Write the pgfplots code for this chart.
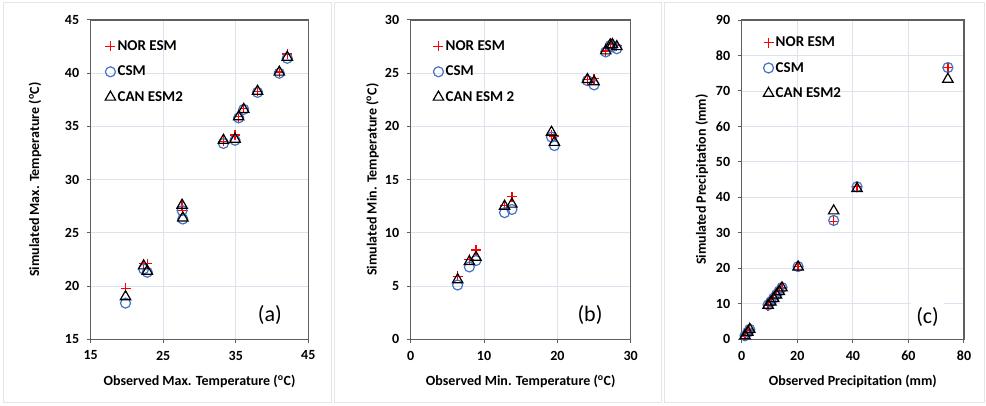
\documentclass[border=0pt]{standalone}
\usepackage{pgfplots}
\pgfplotsset{compat=1.18}
\usepackage{pgfplotstable}
\usepackage{fontspec}
\setmainfont{Carlito}
\definecolor{gridc}{RGB}{220,226,238}
\definecolor{axc}{RGB}{95,95,95}
\definecolor{csmblue}{RGB}{68,114,196}
\definecolor{panelc}{RGB}{226,229,234}

\pgfplotstableread{
x nor csm can
19.8 19.8 18.4 19.0
22.3 22.1 21.6 21.9
22.8 22.1 21.3 21.4
27.6 27.5 27.1 27.6
27.7 27.1 26.3 26.4
33.3 33.6 33.4 33.7
34.9 34.2 33.7 33.8
35.4 35.9 35.8 35.9
36.1 36.7 36.6 36.6
38.0 38.3 38.2 38.3
41.0 40.1 40.0 40.1
42.1 41.8 41.4 41.5
}\dataA

\pgfplotstableread{
x nor csm can
6.4 5.9 5.1 5.6
8.0 7.5 6.8 7.3
8.9 8.4 7.4 7.7
12.8 12.6 11.9 12.5
13.8 13.4 12.2 12.7
19.2 19.2 19.0 19.45
19.6 19.1 18.2 18.5
24.1 24.4 24.3 24.4
25.0 24.5 23.9 24.2
26.6 27.1 27.0 27.1
27.2 27.8 27.6 27.65
27.5 27.7 27.5 27.7
28.1 27.6 27.3 27.5
}\dataB

\pgfplotstableread{
x nor csm can
1.2 0.8 1.0 1.0
2.2 1.8 2.0 2.0
2.9 2.6 2.8 2.8
9.5 9.5 9.7 9.6
10.5 10.5 10.6 10.5
11.5 11.5 11.6 11.5
12.5 12.5 12.6 12.5
13.5 13.5 13.6 13.5
14.5 14.5 14.6 14.5
20.3 20.5 20.5 20.4
33.1 33.3 33.5 36.2
41.5 43.0 43.0 42.5
74.2 76.6 76.6 73.3
}\dataC

\pgfplotsset{
  myax/.style={
    scale only axis, anchor=south west, height=319.3pt,
    grid=major, major grid style={gridc, line width=0.9pt},
    axis line style={axc, line width=1.3pt},
    tick style={axc, line width=1pt}, tick align=outside,
    xtick pos=bottom, ytick pos=left, major tick length=4pt,
    /pgf/number format/assume math mode=true,
    ticklabel style={font=\fontsize{14}{16}\selectfont\bfseries},
    xticklabel style={yshift=-4pt},
    yticklabel style={xshift=-4pt},
    label style={font=\fontsize{14}{16}\selectfont\bfseries},
    xlabel style={at={(axis description cs:0.5,0)}, anchor=center, yshift=-42pt},
    legend style={draw=none, fill=none, font=\fontsize{15}{17}\selectfont\bfseries,
      row sep=10pt, anchor=north west},
    legend cell align=left,
  },
  nor/.style={only marks, mark=+, red, mark size=5pt, line width=1.3pt},
  csm/.style={only marks, mark=o, csmblue, mark size=5pt, line width=1.2pt},
  can/.style={only marks, mark=triangle, black, mark size=6pt, line width=1.2pt},
}

\begin{document}
\begin{tikzpicture}
\useasboundingbox (0,0) rectangle (986pt,406pt);
\draw[panelc, line width=1pt] (3pt,3pt) rectangle (331pt,403pt);
\draw[panelc, line width=1pt] (334pt,3pt) rectangle (661pt,403pt);
\draw[panelc, line width=1pt] (664pt,3pt) rectangle (984pt,403pt);

\begin{axis}[myax, at={(90.7pt,66.7pt)}, width=217.6pt,
  xmin=15, xmax=45, ymin=15, ymax=45,
  xtick={15,25,35,45}, ytick={15,20,...,45},
  legend style={at={(axis description cs:0.052,0.948)}},
  ylabel style={at={(axis description cs:-0.256,0.5)}, anchor=center},
  xlabel={Observed Max. Temperature (\textsuperscript{o}C)},
  ylabel={Simulated Max. Temperature (\textsuperscript{o}C)}]
\addplot[nor] table[x=x,y=nor]{\dataA};
\addplot[csm] table[x=x,y=csm]{\dataA};
\addplot[can] table[x=x,y=can]{\dataA};
\legend{NOR ESM, CSM, CAN ESM2}
\node[font=\fontsize{22}{24}\selectfont] at (axis cs:39.7,17.3) {(a)};
\end{axis}

\begin{axis}[myax, at={(410.7pt,66.7pt)}, width=220pt,
  xmin=0, xmax=30, ymin=0, ymax=30,
  xtick={0,10,20,30}, ytick={0,5,...,30},
  legend style={at={(axis description cs:0.088,0.948)}},
  ylabel style={at={(axis description cs:-0.174,0.5)}, anchor=center},
  xlabel={Observed Min. Temperature (\textsuperscript{o}C)},
  ylabel={Simulated Min. Temperature (\textsuperscript{o}C)}]
\addplot[nor] table[x=x,y=nor]{\dataB};
\addplot[csm] table[x=x,y=csm]{\dataB};
\addplot[can] table[x=x,y=can]{\dataB};
\legend{NOR ESM, CSM, CAN ESM 2}
\node[font=\fontsize{22}{24}\selectfont] at (axis cs:24.45,2.28) {(b)};
\end{axis}

\begin{axis}[myax, at={(741.7pt,66.7pt)}, width=222.3pt,
  xmin=0, xmax=80, ymin=0, ymax=90,
  xtick={0,20,...,80}, ytick={0,10,...,90},
  legend style={at={(axis description cs:0.083,0.96)}},
  ylabel style={at={(axis description cs:-0.18,0.5)}, anchor=center},
  xlabel={Observed Precipitation (mm)},
  ylabel={Simulated Precipitation (mm)}]
\addplot[nor] table[x=x,y=nor]{\dataC};
\addplot[csm] table[x=x,y=csm]{\dataC};
\addplot[can] table[x=x,y=can]{\dataC};
\legend{NOR ESM, CSM, CAN ESM2}
\node[font=\fontsize{22}{24}\selectfont, fill=white, inner sep=5pt] at (axis cs:66.9,6.4) {(c)};
\end{axis}
\end{tikzpicture}
\end{document}
